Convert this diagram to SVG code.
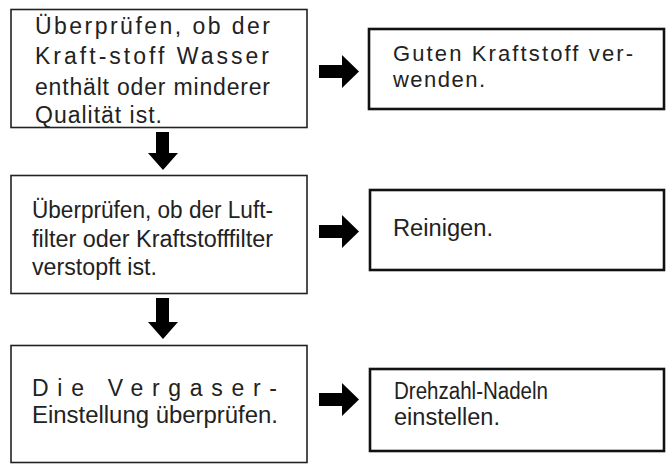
<svg xmlns="http://www.w3.org/2000/svg" width="671" height="465" viewBox="0 0 671 465">
<style>
.bl{fill:#fff;stroke:#222;stroke-width:1.6}
.br{fill:#fff;stroke:#111;stroke-width:2.6}
text{font-family:"Liberation Sans",Arial,sans-serif;fill:#222}
.t1{font-size:23px}
.t2{font-size:22px}
.t3{font-size:23px}
.ar{fill:#000}
</style>
<rect width="671" height="465" fill="#fff"/>
<g id="n1">
<rect class="bl" x="11" y="9.5" width="296" height="118"/>
<text class="t1" x="35" y="34" textLength="235" lengthAdjust="spacing">Überprüfen, ob der</text>
<text class="t1" x="35" y="64" textLength="234" lengthAdjust="spacing">Kraft-stoff  Wasser</text>
<text class="t1" x="35" y="95" textLength="235" lengthAdjust="spacing">enthält oder minderer</text>
<text class="t1" x="35" y="123" textLength="127" lengthAdjust="spacing">Qualität ist.</text>
</g>
<g id="nA">
<rect class="br" x="369" y="29" width="295" height="80"/>
<text class="t2" x="393" y="61" textLength="240" lengthAdjust="spacing">Guten Kraftstoff ver-</text>
<text class="t2" x="393" y="87" textLength="92" lengthAdjust="spacing">wenden.</text>
</g>
<g id="n2">
<rect class="bl" x="11" y="175.5" width="296" height="118"/>
<text class="t3" x="32" y="218" textLength="241" lengthAdjust="spacingAndGlyphs">Überprüfen, ob der Luft-</text>
<text class="t3" x="32" y="247" textLength="241" lengthAdjust="spacingAndGlyphs">filter oder Kraftstofffilter</text>
<text class="t3" x="32" y="275" textLength="125" lengthAdjust="spacingAndGlyphs">verstopft ist.</text>
</g>
<g id="nB">
<rect class="br" x="370" y="190" width="294" height="80"/>
<text class="t3" x="393" y="236" textLength="100" lengthAdjust="spacingAndGlyphs">Reinigen.</text>
</g>
<g id="n3">
<rect class="bl" x="11" y="345.5" width="296" height="117"/>
<text class="t3" x="32" y="396" textLength="245" lengthAdjust="spacing">Die  Vergaser-</text>
<text class="t3" x="32" y="423" textLength="246" lengthAdjust="spacingAndGlyphs">Einstellung überprüfen.</text>
</g>
<g id="nC">
<rect class="br" x="370" y="369" width="294" height="82"/>
<text class="t3" x="394" y="399" textLength="154" lengthAdjust="spacingAndGlyphs">Drehzahl-Nadeln</text>
<text class="t3" x="394" y="425" textLength="106" lengthAdjust="spacingAndGlyphs">einstellen.</text>
</g>
<g id="connectors">
<polygon class="ar" points="319,65 342,65 342,55 359,71.5 342,88 342,78 319,78"/>
<polygon class="ar" points="319,225 342,225 342,215 359,231.5 342,248 342,238 319,238"/>
<polygon class="ar" points="319,393 342,393 342,383 359,399.5 342,416 342,406 319,406"/>
<polygon class="ar" points="156,132 169,132 169,153 178,153 163,170 148,153 156,153"/>
<polygon class="ar" points="156,298 169,298 169,322 178,322 163,339 148,322 156,322"/>
</g>
</svg>
